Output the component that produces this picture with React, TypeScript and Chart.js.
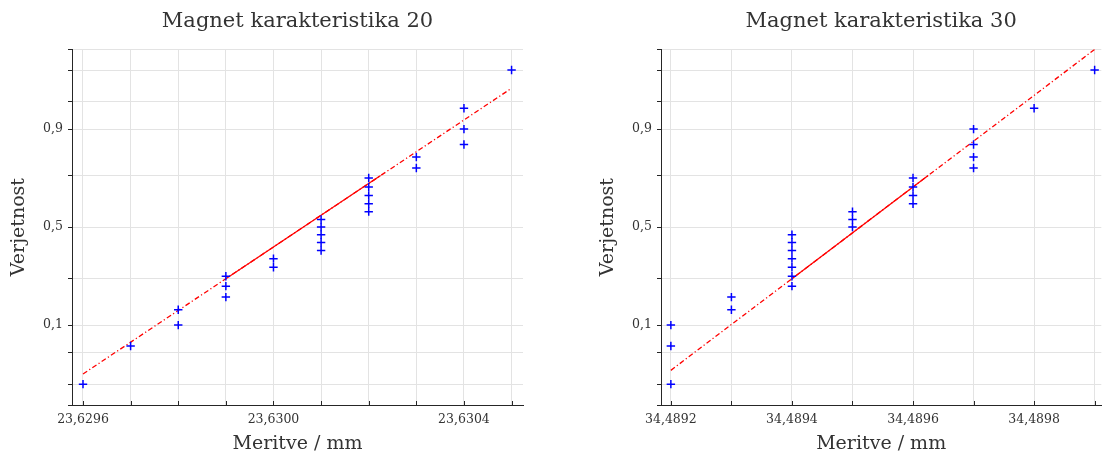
import React, { useEffect, useRef } from "react";
import { Chart, LinearScale, registerables } from "chart.js";

// ---------- data ----------
const probabilities = [
  0.02, 0.06, 0.1, 0.14, 0.18, 0.22, 0.26, 0.3, 0.34, 0.38, 0.42, 0.46, 0.5,
  0.54, 0.58, 0.62, 0.66, 0.7, 0.74, 0.78, 0.82, 0.86, 0.9, 0.94, 0.98,
];

const measurements20 = [
  23.6296, 23.6297, 23.6298, 23.6298, 23.6299, 23.6299, 23.6299, 23.63, 23.63,
  23.6301, 23.6301, 23.6301, 23.6301, 23.6301, 23.6302, 23.6302, 23.6302,
  23.6302, 23.6302, 23.6303, 23.6303, 23.6304, 23.6304, 23.6304, 23.6305,
];

const measurements30 = [
  34.4892, 34.4892, 34.4892, 34.4893, 34.4893, 34.4894, 34.4894, 34.4894,
  34.4894, 34.4894, 34.4894, 34.4894, 34.4895, 34.4895, 34.4895, 34.4896,
  34.4896, 34.4896, 34.4896, 34.4897, 34.4897, 34.4897, 34.4897, 34.4898,
  34.4899,
];

// reference line: [start, q1, q3, end]
const fitX20 = [23.6296, 23.6299, 23.630225, 23.6305];
const fitP20 = [0.0274, 0.25, 0.75, 0.9653];
const fitX30 = [34.4892, 34.4894, 34.489625, 34.4899];
const fitP30 = [0.0305, 0.25, 0.75, 0.9899];

const xTicks20 = [
  23.6296, 23.6297, 23.6298, 23.6299, 23.63, 23.6301, 23.6302, 23.6303,
  23.6304, 23.6305,
];
const xTickLabels20 = ["23,6296", "", "", "", "23,6300", "", "", "", "23,6304", ""];
const xTicks30 = [
  34.4892, 34.4893, 34.4894, 34.4895, 34.4896, 34.4897, 34.4898, 34.4899,
];
const xTickLabels30 = ["34,4892", "", "34,4894", "", "34,4896", "", "34,4898", ""];

const xRange20 = [23.6295769, 23.630524];
const xRange30 = [34.4891837, 34.489911];

const yRange = [0.01, 0.99];
const yGridP = [0.01, 0.02, 0.05, 0.1, 0.25, 0.5, 0.75, 0.9, 0.95, 0.98, 0.99];
const yLabelP = [0.1, 0.5, 0.9];
const yLabelText = ["0,1", "0,5", "0,9"];

const titles = ["Magnet karakteristika 20", "Magnet karakteristika 30"];
const xAxisTitle = "Meritve / mm";
const yAxisTitle = "Verjetnost";

// ---------- normal distribution helpers ----------
function norminv(p: number): number {
  const a = [-3.969683028665376e1, 2.209460984245205e2, -2.759285104469687e2, 1.38357751867269e2, -3.066479806614716e1, 2.506628277459239];
  const b = [-5.447609879822406e1, 1.615858368580409e2, -1.556989798598866e2, 6.680131188771972e1, -1.328068155288572e1];
  const c = [-7.784894002430293e-3, -3.223964580411365e-1, -2.400758277161838, -2.549732539343734, 4.374664141464968, 2.938163982698783];
  const d = [7.784695709041462e-3, 3.224671290700398e-1, 2.445134137142996, 3.754408661907416];
  const pl = 0.02425;
  if (p <= 0) return -8;
  if (p >= 1) return 8;
  let q, r;
  if (p < pl) {
    q = Math.sqrt(-2 * Math.log(p));
    return (((((c[0] * q + c[1]) * q + c[2]) * q + c[3]) * q + c[4]) * q + c[5]) / ((((d[0] * q + d[1]) * q + d[2]) * q + d[3]) * q + 1);
  }
  if (p <= 1 - pl) {
    q = p - 0.5;
    r = q * q;
    return ((((((a[0] * r + a[1]) * r + a[2]) * r + a[3]) * r + a[4]) * r + a[5]) * q) / (((((b[0] * r + b[1]) * r + b[2]) * r + b[3]) * r + b[4]) * r + 1);
  }
  q = Math.sqrt(-2 * Math.log(1 - p));
  return -(((((c[0] * q + c[1]) * q + c[2]) * q + c[3]) * q + c[4]) * q + c[5]) / ((((d[0] * q + d[1]) * q + d[2]) * q + d[3]) * q + 1);
}

function normcdf(z: number): number {
  const t = 1 / (1 + 0.2316419 * Math.abs(z));
  const dens = Math.exp(-z * z / 2) / Math.sqrt(2 * Math.PI);
  const poly = t * (0.31938153 + t * (-0.356563782 + t * (1.781477937 + t * (-1.821255978 + t * 1.330274429))));
  const v = 1 - dens * poly;
  return z >= 0 ? v : 1 - v;
}

// ---------- normal probability scale ----------
class ProbabilityScale extends LinearScale {
  static id = "probability";
  static defaults = {};
  determineDataLimits() {
    const o: any = this.options;
    (this as any).min = norminv(o.min);
    (this as any).max = norminv(o.max);
  }
  buildTicks() {
    return [] as any;
  }
  getPixelForValue(value: number) {
    return super.getPixelForValue(norminv(value));
  }
  getValueForPixel(pixel: number) {
    return normcdf(super.getValueForPixel(pixel) as number);
  }
}

Chart.register(...registerables, ProbabilityScale as any);

const TEXT = "#333333";
const AXIS = "#262626";
const GRID = "#e3e3e3";

const upTicksPlugin = {
  id: "upTicks",
  afterDraw(chart: any) {
    const xs = chart.scales.x;
    const ctx = chart.ctx;
    ctx.save();
    ctx.strokeStyle = AXIS;
    ctx.lineWidth = 1;
    ctx.beginPath();
    for (const t of xs.ticks) {
      const px = Math.round(xs.getPixelForValue(t.value)) + 0.5;
      ctx.moveTo(px, xs.top);
      ctx.lineTo(px, xs.top - 4);
    }
    ctx.stroke();
    ctx.restore();
  },
};

function buildConfig(idx: number) {
  const xs = idx === 0 ? measurements20 : measurements30;
  const fx = idx === 0 ? fitX20 : fitX30;
  const fp = idx === 0 ? fitP20 : fitP30;
  const xt = idx === 0 ? xTicks20 : xTicks30;
  const xl = idx === 0 ? xTickLabels20 : xTickLabels30;
  const xr = idx === 0 ? xRange20 : xRange30;
  return {
    type: "scatter" as const,
    data: {
      datasets: [
        {
          label: "data",
          data: xs.map((x, i) => ({ x, y: probabilities[i] })),
          pointStyle: "cross",
          pointRadius: 4.2,
          pointBorderWidth: 1.5,
          borderColor: "#0000ff",
          backgroundColor: "#0000ff",
          showLine: false,
        },
        {
          label: "fit",
          data: [1, 2].map((i) => ({ x: fx[i], y: fp[i] })),
          showLine: true,
          pointRadius: 0,
          borderColor: "#ff0000",
          borderWidth: 1.3,
        },
        {
          label: "fit-ext",
          data: [0, 3].map((i) => ({ x: fx[i], y: fp[i] })),
          showLine: true,
          pointRadius: 0,
          borderColor: "#ff0000",
          borderWidth: 1.3,
          borderDash: [5, 2.5, 1.2, 2.5],
        },
      ],
    },
    options: {
      responsive: false,
      animation: false as const,
      devicePixelRatio: 1,
      layout: { padding: { left: idx === 0 ? 0 : 36, right: idx === 0 ? 30 : 0, top: 0, bottom: 0 } },
      plugins: {
        legend: { display: false },
        tooltip: { enabled: false },
        title: {
          display: true,
          text: titles[idx],
          color: TEXT,
          fullSize: false,
          font: { family: "DejaVu Serif", size: 21, weight: "normal" as const },
          padding: { top: 9, bottom: 15 },
        },
      },
      scales: {
        x: {
          type: "linear" as const,
          min: xr[0],
          max: xr[1],
          afterBuildTicks: (scale: any) => {
            scale.ticks = xt.map((v) => ({ value: v }));
          },
          afterFit: (scale: any) => {
            scale.height = 52;
          },
          grid: { color: GRID, drawTicks: false },
          border: { display: true, color: AXIS, width: 1 },
          ticks: {
            autoSkip: false,
            maxRotation: 0,
            padding: 7,
            color: TEXT,
            font: { family: "DejaVu Serif", size: 12.5 },
            callback: (_v: any, i: number) => xl[i],
          },
          title: {
            display: true,
            text: xAxisTitle,
            color: TEXT,
            font: { family: "DejaVu Serif", size: 19 },
            padding: { top: 0, bottom: 2 },
          },
        },
        y: {
          type: "probability" as any,
          min: yRange[0],
          max: yRange[1],
          afterBuildTicks: (scale: any) => {
            scale.ticks = yGridP.map((v) => ({ value: v }));
          },
          afterFit: (scale: any) => {
            scale.width = 72;
          },
          grid: { color: GRID, drawTicks: true, tickLength: 4, tickColor: AXIS },
          border: { display: true, color: AXIS, width: 1 },
          ticks: {
            autoSkip: false,
            padding: 5,
            color: TEXT,
            font: { family: "DejaVu Serif", size: 12.5 },
            callback: (v: any) => {
              const k = yLabelP.findIndex((p) => Math.abs(p - v) < 1e-9);
              return k >= 0 ? yLabelText[k] : "";
            },
          },
          title: {
            display: true,
            text: yAxisTitle,
            color: TEXT,
            font: { family: "DejaVu Serif", size: 19 },
            padding: { top: 8, bottom: 0 },
          },
        },
      },
    },
    plugins: [upTicksPlugin],
  };
}

function ProbPlot({ idx, width, left }: { idx: number; width: number; left: number }) {
  const ref = useRef<HTMLCanvasElement | null>(null);
  useEffect(() => {
    if (!ref.current) return;
    const chart = new Chart(ref.current, buildConfig(idx) as any);
    return () => chart.destroy();
  }, [idx]);
  return (
    <canvas
      ref={ref}
      width={width}
      height={457}
      style={{ position: "absolute", left, top: 0, width, height: 457 }}
    />
  );
}

export default function App() {
  return (
    <div style={{ position: "fixed", left: 0, top: 0, width: 1107, height: 457, background: "#fff", overflow: "hidden" }}>
      <ProbPlot idx={0} width={553} left={0} />
      <ProbPlot idx={1} width={554} left={553} />
    </div>
  );
}
